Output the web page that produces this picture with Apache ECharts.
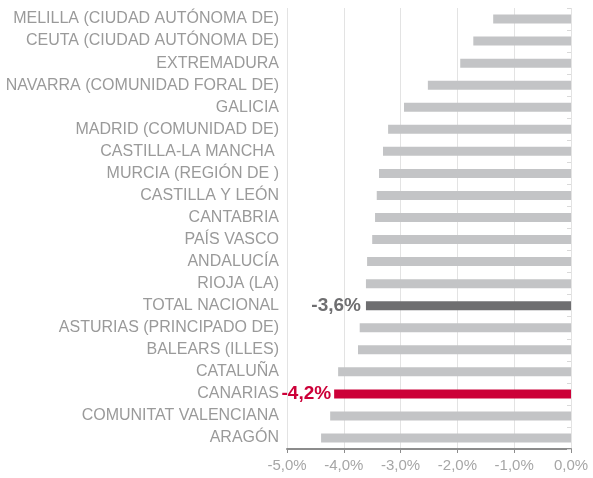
<!DOCTYPE html>
<html>
<head>
<meta charset="utf-8">
<script src="https://cdn.jsdelivr.net/npm/echarts@6/dist/echarts.min.js"></script>
<style>
  html, body { margin: 0; padding: 0; background: #fff; }
  #chart { width: 593px; height: 478px; }
</style>
</head>
<body>
<div id="chart"></div>
<script>
// categories from top to bottom
const regions = [
  'MELILLA (CIUDAD AUTÓNOMA DE)',
  'CEUTA (CIUDAD AUTÓNOMA DE)',
  'EXTREMADURA',
  'NAVARRA (COMUNIDAD FORAL DE)',
  'GALICIA',
  'MADRID (COMUNIDAD DE)',
  'CASTILLA-LA MANCHA ',
  'MURCIA (REGIÓN DE )',
  'CASTILLA Y LEÓN',
  'CANTABRIA',
  'PAÍS VASCO',
  'ANDALUCÍA',
  'RIOJA (LA)',
  'TOTAL NACIONAL',
  'ASTURIAS (PRINCIPADO DE)',
  'BALEARS (ILLES)',
  'CATALUÑA',
  'CANARIAS',
  'COMUNITAT VALENCIANA',
  'ARAGÓN'
];
const values = [
  -1.37, -1.72, -1.95, -2.52, -2.94, -3.22, -3.31, -3.38, -3.42, -3.45,
  -3.50, -3.59, -3.61, -3.61, -3.72, -3.75, -4.10, -4.17, -4.24, -4.40
];
const xTicks = [-5, -4, -3, -2, -1, 0];

const fmt = v => v.toFixed(1).replace('.', ',') + '%';
const FONT = 'Liberation Sans, Arial, sans-serif';

const seriesData = values.map((v, i) => {
  const name = regions[i];
  if (name === 'TOTAL NACIONAL') {
    return {
      value: v,
      itemStyle: { color: '#6e6e70' },
      label: {
        show: true, position: 'left', distance: 5,
        color: '#6e6e70', fontWeight: 'bold', fontSize: 19, fontFamily: FONT,
        formatter: p => fmt(p.value)
      }
    };
  }
  if (name === 'CANARIAS') {
    return {
      value: v,
      itemStyle: { color: '#cc0038' },
      label: {
        show: true, position: 'left', distance: 3,
        color: '#cc0038', fontWeight: 'bold', fontSize: 19, fontFamily: FONT,
        formatter: p => fmt(p.value)
      }
    };
  }
  return v;
});

const chart = echarts.init(document.getElementById('chart'));
chart.setOption({
  animation: false,
  grid: { left: 287, right: 22, top: 8, bottom: 29 },
  xAxis: {
    type: 'value',
    min: xTicks[0],
    max: xTicks[xTicks.length - 1],
    interval: 1,
    axisLine: { show: true, onZero: false, lineStyle: { color: '#8c8c8c', width: 2 } },
    axisTick: { show: true, length: 4, lineStyle: { color: '#8c8c8c' } },
    axisLabel: {
      color: '#a6a6a6', fontSize: 15, margin: 9,
      fontFamily: FONT,
      formatter: v => fmt(v)
    },
    splitLine: { show: true, lineStyle: { color: '#e3e3e3', width: 1 } }
  },
  yAxis: [
    {
      type: 'category',
      inverse: true,
      data: regions,
      axisLine: { show: false },
      axisTick: { show: false },
      axisLabel: {
        color: '#9a9a9a', fontSize: 16, margin: 8,
        fontFamily: FONT
      }
    },
    {
      type: 'category',
      inverse: true,
      position: 'right',
      data: regions,
      axisLine: { show: false },
      axisLabel: { show: false },
      axisTick: { show: true, inside: true, length: 4, lineStyle: { color: '#d9d9d9' } }
    }
  ],
  series: [{
    type: 'bar',
    yAxisIndex: 0,
    barWidth: 9,
    itemStyle: { color: '#c3c4c6' },
    data: seriesData
  }]
});
</script>
</body>
</html>
